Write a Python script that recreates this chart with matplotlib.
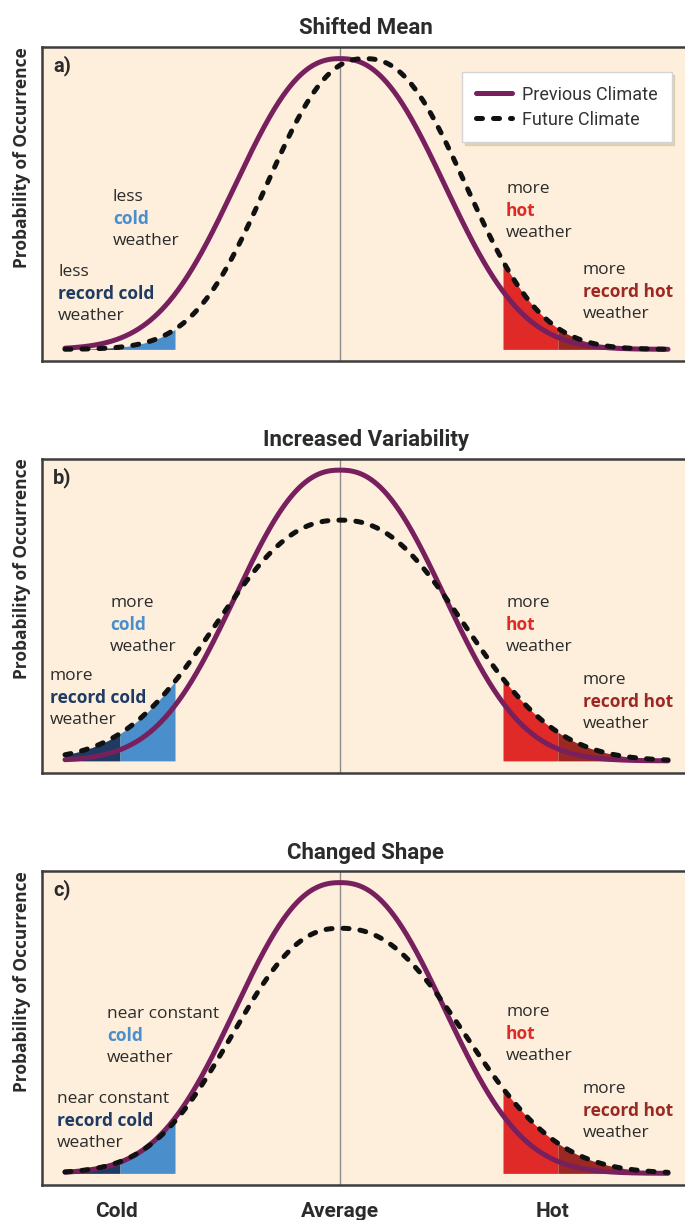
import numpy as np
import matplotlib
matplotlib.use('Agg')
import matplotlib.pyplot as plt
from matplotlib import font_manager

# pick a condensed face if there is one
names = {f.name for f in font_manager.fontManager.ttflist}
narrow = 'Liberation Sans Narrow' if 'Liberation Sans Narrow' in names else 'Roboto'
body = 'Open Sans'

W, H = 685, 1220

# curve parameters
# x is in units of 100 px measured from the "Average" line, y is relative to the previous-climate peak
titles = ['Shifted Mean', 'Increased Variability', 'Changed Shape']
panel_tags = ['a)', 'b)', 'c)']
prev_centre = [0.0, 0.0, 0.0]
prev_width = [1.33, 1.33, 1.33]
prev_peak = [1.0, 1.0, 1.0]
fut_centre = [0.25, 0.0, 0.0]
fut_width_left = [1.25, 1.58, 1.37]
fut_width_right = [1.28, 1.58, 1.59]
fut_peak = [1.0, 0.828, 0.843]
shape_power = 2.35

x_start, x_end = -2.75, 3.28
record_cold_limit, cold_limit = -2.2, -1.65
hot_limit, record_hot_limit = 1.63, 2.18

x_tick_pos = [-2.23, 0.0, 2.13]
x_tick_labels = ['Cold', 'Average', 'Hot']

legend_labels = ['Previous Climate', 'Future Climate']

# words of the four notes in each panel
cold_first = ['less', 'more', 'near constant']
record_cold_first = ['less', 'more', 'near constant']
hot_first = ['more', 'more', 'more']
record_hot_first = ['more', 'more', 'more']

# colours
purple = '#781f5e'
bg = '#fdefdc'
blue = '#4a8fcb'
dark_blue = '#1f3a63'
red = '#e02a27'
dark_red = '#9c2823'
ink = '#2b2b2b'


def curve(x, c, wl, wr, peak):
    w = np.where(x < c, wl, wr)
    return peak * np.exp(-(np.abs(x - c) / w) ** shape_power)


def note(px, py, first, word, colour):
    # three stacked lines, the middle one coloured and bold
    fig.text(px / W, 1 - py / H, first, ha='left', va='center',
             fontsize=12.5, family=body, color=ink)
    fig.text(px / W, 1 - (py + 22) / H, word, ha='left', va='center',
             fontsize=12.5, family=body, color=colour, fontweight='bold')
    fig.text(px / W, 1 - (py + 44) / H, 'weather', ha='left', va='center',
             fontsize=12.5, family=body, color=ink)


fig = plt.figure(figsize=(W / 100, H / 100), dpi=100)

ax_top = [47, 458.5, 871]
ax_h = 314
# pixel spots of the notes: cold, record cold, hot, record hot
note_pos = [
    [(113, 197), (58, 272), (506, 189), (583, 270)],
    [(110, 603), (50, 676), (506, 603), (583, 680)],
    [(107, 1014), (57, 1099), (506, 1012), (583, 1089)],
]

xs = np.linspace(x_start, x_end, 800)

for i in range(3):
    top = ax_top[i]
    ax = fig.add_axes([42 / W, (H - top - ax_h) / H, 648 / W, ax_h / H])
    ax.set_facecolor(bg)
    ax.set_xlim(-2.98, 3.5)
    ax.set_ylim(-0.04, 1.04)

    prev = curve(xs, prev_centre[i], prev_width[i], prev_width[i], prev_peak[i])
    fut = curve(xs, fut_centre[i], fut_width_left[i], fut_width_right[i], fut_peak[i])

    ax.axvline(0, color='#8c8c8c', lw=1.0, zorder=1)

    # shaded tails under the future curve
    segs = [(x_start, record_cold_limit, dark_blue), (record_cold_limit, cold_limit, blue),
            (hot_limit, record_hot_limit, red), (record_hot_limit, x_end, dark_red)]
    for a, b, col in segs:
        xx = np.linspace(a, b, 200)
        yy = curve(xx, fut_centre[i], fut_width_left[i], fut_width_right[i], fut_peak[i])
        ax.fill_between(xx, 0, yy, color=col, lw=0, zorder=2)

    h1, = ax.plot(xs, prev, color=purple, lw=3.6, solid_capstyle='round', zorder=3,
                  label=legend_labels[0])
    h2, = ax.plot(xs, fut, color='#111111', lw=3.6, dashes=[1.2, 2.2],
                  dash_capstyle='round', zorder=4, label=legend_labels[1])

    for side in ['left', 'top', 'bottom']:
        ax.spines[side].set_color('#3d3d3d')
        ax.spines[side].set_linewidth(1.8)
    ax.spines['right'].set_visible(False)

    ax.set_yticks([])
    if i == 2:
        ax.set_xticks(x_tick_pos)
        ax.set_xticklabels(x_tick_labels, family=narrow, fontweight='bold',
                           fontsize=15, color=ink)
        ax.tick_params(axis='x', length=0, pad=12)
    else:
        ax.set_xticks([])

    ax.set_title(titles[i], family=narrow, fontweight='bold', fontsize=16,
                 color=ink, pad=9)
    ax.set_ylabel('Probability of Occurrence', loc='top', family=body,
                  fontweight='bold', fontsize=12.5, color=ink, labelpad=8)
    ax.text(0.017, 0.94, panel_tags[i], transform=ax.transAxes, family=narrow,
            fontweight='bold', fontsize=14.5, color=ink, va='center')

    p = note_pos[i]
    note(p[0][0], p[0][1], cold_first[i], 'cold', blue)
    note(p[1][0], p[1][1], record_cold_first[i], 'record cold', dark_blue)
    note(p[2][0], p[2][1], hot_first[i], 'hot', red)
    note(p[3][0], p[3][1], record_hot_first[i], 'record hot', dark_red)

    if i == 0:
        leg = ax.legend(handles=[h1, h2], loc='upper left',
                        bbox_to_anchor=((462 - 42) / 648, (361 - 72) / 314),
                        borderaxespad=0, prop={'family': narrow, 'size': 13},
                        handlelength=2.0, handletextpad=0.6, borderpad=0.75,
                        labelspacing=0.4, fancybox=False, framealpha=1,
                        edgecolor='#d4d4d4',
                        shadow={'color': '#d9c6aa', 'alpha': 0.7})
        for t in leg.get_texts():
            t.set_color('#333333')

fig.savefig('out.png', dpi=100)
